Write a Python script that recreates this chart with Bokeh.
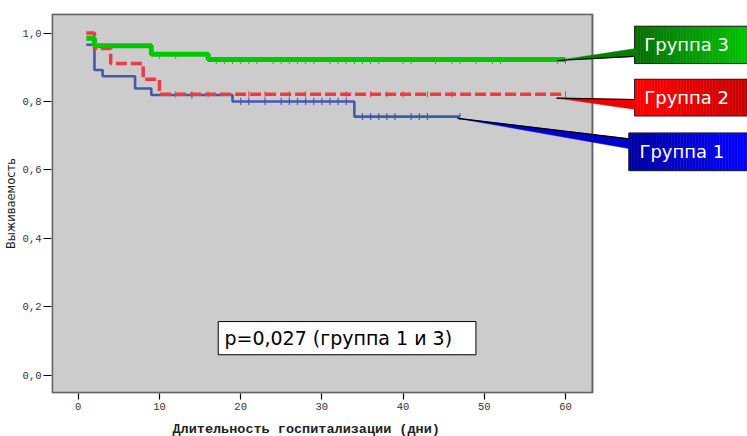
import numpy as np
from bokeh.plotting import figure
from bokeh.models import FixedTicker, Range1d, Title
from bokeh.core.properties import value
from bokeh.embed import file_html
from bokeh.resources import INLINE

# ---------------- data ----------------
g1_times = [1, 2, 3, 7, 9, 19, 34, 47]
g1_surv = [0.966, 0.892, 0.874, 0.838, 0.819, 0.800, 0.756, 0.756]
g1_cens = [14, 20, 21, 23, 25, 26, 27, 28, 29, 30, 31, 32, 33, 35, 36, 37, 38, 39, 41, 42, 43, 47]

g2_times = [1, 2, 4, 8, 10, 60]
g2_surv = [1.000, 0.955, 0.911, 0.865, 0.821, 0.821]
g2_cens = [12, 16, 21, 23, 26, 28, 33, 36, 38, 40, 43, 46, 60]

g3_times = [1, 2, 9, 16, 60]
g3_surv = [0.985, 0.963, 0.938, 0.923, 0.923]
g3_cens = [10, 12, 17, 18, 19, 20, 21, 22, 24, 25, 26, 27, 28, 29, 31, 32, 33, 34,
           35, 36, 37, 40, 41, 44, 46, 47, 49, 51, 52, 59, 60]

x_ticks = [0, 10, 20, 30, 40, 50, 60]
y_ticks = [0.0, 0.2, 0.4, 0.6, 0.8, 1.0]
y_tick_labels = ["0,0", "0,2", "0,4", "0,6", "0,8", "1,0"]
group_names = ["Группа 1", "Группа 2", "Группа 3"]
p_text = "p=0,027 (группа 1 и 3)"
x_label = "Длительность госпитализации (дни)"
y_label = "Выживаемость"

# ---------------- figure ----------------
p = figure(width=747, height=436, output_backend="svg", toolbar_location=None,
           x_range=Range1d(-3.29, 82.41), y_range=Range1d(-0.0532, 1.0573),
           min_border_left=51, min_border_right=0, min_border_top=13, min_border_bottom=41)
p.outline_line_color = None
p.grid.visible = False
p.background_fill_color = "white"
p.border_fill_color = "white"

# axes
p.xaxis.ticker = FixedTicker(ticks=x_ticks)
p.xaxis.axis_line_color = None
p.xaxis.major_tick_out = 6
p.xaxis.major_tick_in = 0
p.xaxis.major_tick_line_width = 1.2
p.xaxis.minor_tick_line_color = None
p.xaxis.major_label_text_font = "Liberation Mono"
p.xaxis.major_label_text_font_size = "10.5px"
p.xaxis.major_label_text_color = "#333333"
p.xaxis.major_label_standoff = 3
# tiny invisible spacer so that the title sits lower
p.xaxis.axis_label = " "
p.xaxis.axis_label_text_font_size = "1px"
p.xaxis.axis_label_standoff = 3

p.yaxis.ticker = FixedTicker(ticks=y_ticks)
p.yaxis.major_label_overrides = dict(zip(y_ticks, y_tick_labels))
p.yaxis.axis_line_color = None
p.yaxis.major_tick_out = 8
p.yaxis.major_tick_in = 0
p.yaxis.major_tick_line_width = 1.2
p.yaxis.minor_tick_line_color = None
p.yaxis.major_label_text_font = "Liberation Mono"
p.yaxis.major_label_text_font_size = "10.5px"
p.yaxis.major_label_text_color = "#333333"
p.yaxis.major_label_standoff = 2
p.yaxis.axis_label = y_label
p.yaxis.axis_label_text_font = "DejaVu Sans"
p.yaxis.axis_label_text_font_size = "11.5px"
p.yaxis.axis_label_text_font_style = "normal"
p.yaxis.axis_label_text_color = "#222222"
p.yaxis.axis_label_standoff = 2

xt = Title(text=x_label, align="left", offset=121, text_font="Liberation Mono",
           text_font_size="13.5px", text_font_style="bold", text_color="#222222", standoff=0)
p.add_layout(xt, "below")

# plot area background
p.quad(left=-3.2, right=63.32, bottom=-0.051, top=1.055,
       fill_color="#cccccc", line_color="#666666", line_width=2)


def surv_at(t, times, surv):
    idx = np.searchsorted(np.array(times), t, side="right") - 1
    return surv[max(idx, 0)]


series = [
    (g1_times, g1_surv, g1_cens, "#4358b0", 2.6, "solid", 0.010, 0.010, 1.2),
    (g2_times, g2_surv, g2_cens, "#ef3a40", 3.5, "11 4", 0.009, 0.009, 1.0),
    (g3_times, g3_surv, g3_cens, "#00c800", 5.0, "solid", 0.013, 0.0, 1.0),
]
for times, surv, cens, color, lw, dash, dlo, dhi, tw in series:
    p.step(x=times, y=surv, mode="after", line_color=color, line_width=lw, line_dash=dash)
    cy = [surv_at(t, times, surv) for t in cens]
    p.segment(x0=cens, y0=[v - dlo for v in cy], x1=cens, y1=[v + dhi for v in cy],
              line_color=color, line_width=tw)

# p-value box
p.quad(left=17.24, right=48.97, bottom=0.060, top=0.157, fill_color="white",
       line_color="black", line_width=1)
p.text(x=[18.0], y=[0.109], text=[p_text], text_font=value("DejaVu Sans"),
       text_font_size="19px", text_baseline="middle", text_color="black")


# callouts
def hexrgb(h):
    h = h.lstrip("#")
    return [int(h[i:i + 2], 16) for i in (0, 2, 4)]


def gradient_box(x0, x1, y0, y1, c0, c1, n=40):
    a, b = np.array(hexrgb(c0)), np.array(hexrgb(c1))
    edges = np.linspace(x0, x1, n + 1)
    cols = []
    for i in range(n):
        c = a + (b - a) * (i / (n - 1))
        cols.append("#%02x%02x%02x" % tuple(int(round(v)) for v in c))
    p.quad(left=edges[:-1], right=edges[1:], bottom=y0, top=y1,
           fill_color=cols, line_color=cols, line_width=0.5)
    p.quad(left=x0, right=x1, bottom=y0, top=y1, fill_color=None,
           line_color="#222222", line_width=1)


callouts = [
    (group_names[2], 68.5, 0.911, 1.020, (59.0, 0.920), 0.955, 0.932, "#007000", "#00c400", "#008000", 69.7, 0.966, "lo"),
    (group_names[1], 68.5, 0.758, 0.865, (58.9, 0.810), 0.806, 0.777, "#ff0000", "#c80000", "#ee0000", 69.7, 0.812, "hi"),
    (group_names[0], 67.8, 0.598, 0.708, (46.7, 0.751), 0.691, 0.662, "#0000a0", "#0000ff", "#0000c8", 69.1, 0.653, "hi"),
]
for name, bx0, by0, by1, tip, bh, bl, c0, c1, wc, tx, ty, edge in callouts:
    gradient_box(bx0, 82.7, by0, by1, c0, c1)
    p.patch(x=[tip[0], bx0 + 0.15, bx0 + 0.15], y=[tip[1], bh, bl], fill_color=wc, line_color=wc,
            line_width=0.5)
    ey = bl if edge == "lo" else bh
    p.line(x=[tip[0], bx0], y=[tip[1], ey], line_color="black", line_width=1.2)
    p.text(x=[tx], y=[ty], text=[name], text_font=value("DejaVu Sans"), text_font_size="18px",
           text_baseline="middle", text_color="white")

open("out.html", "w").write(file_html(p, INLINE))
